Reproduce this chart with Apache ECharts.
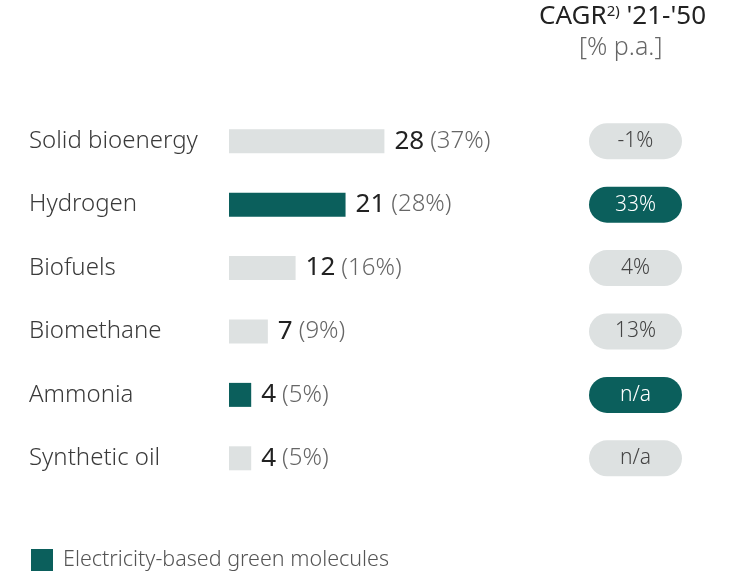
<!DOCTYPE html>
<html><head><meta charset="utf-8">
<script src="https://cdn.jsdelivr.net/npm/echarts@6/dist/echarts.min.js"></script>
<style>html,body{margin:0;padding:0;background:#fff}#c{width:730px;height:572px}</style>
</head><body><div id="c"></div>
<script>
const categories = ['Solid bioenergy','Hydrogen','Biofuels','Biomethane','Ammonia','Synthetic oil'];
const values = [28,21,12,7,4,4];
const shares = ['37%','28%','16%','9%','5%','5%'];
const electricityBased = [false,true,false,false,true,false];
const cagr = ['-1%','33%','4%','13%','n/a','n/a'];
const legendName = 'Electricity-based green molecules';

const TEAL = '#0b5f5c', GREY = '#dde1e1';
const FONT = '"Noto Sans", "Open Sans", sans-serif';
const chart = echarts.init(document.getElementById('c'));
const gTop = 109.5, gBottom = 82;
const labelCfg = {
  show: true, position: 'right', distance: 10,
  formatter: p => '{a|' + p.value + '}{b|(' + shares[p.dataIndex] + ')}',
  rich: {
    a: {fontFamily: FONT, fontSize: 26, color: '#222', fontWeight: 400, padding: [0, 6, 0, 0]},
    b: {fontFamily: FONT, fontSize: 24, color: '#666', fontWeight: 300}
  }
};
chart.setOption({
  animation: false,
  graphic: [{
    type: 'text', left: 539, top: 4,
    style: {
      text: "CAGR{s|2)} '21-'50",
      rich: { s: {fontSize: 15, verticalAlign: 'top', padding: [0,0,10,0], fontFamily: FONT, fill: '#222'} },
      fontFamily: FONT, fontSize: 26, fill: '#222', fontWeight: 400
    }
  }, {
    type: 'text', left: 579, top: 35,
    style: { text: '[% p.a.]', fontFamily: FONT, fontSize: 25, fill: '#666', fontWeight: 300 }
  }],
  legend: {
    left: 31, top: 549, itemWidth: 22, itemHeight: 22, icon: 'rect', padding: 0,
    data: [legendName],
    selectedMode: false,
    textStyle: {fontFamily: FONT, fontSize: 21.5, color: '#555', fontWeight: 300, padding: [5,0,0,5]}
  },
  grid: [
    {left: 229, width: 277.5, top: gTop, bottom: gBottom},
    {left: 589, width: 93, top: gTop, bottom: gBottom}
  ],
  xAxis: [
    {gridIndex: 0, type: 'value', min: 0, max: 50, show: false},
    {gridIndex: 1, type: 'value', min: 0, max: 1, show: false}
  ],
  yAxis: [
    {gridIndex: 0, type: 'category', data: categories, inverse: true,
     axisLine: {show: false}, axisTick: {show: false}, splitLine: {show: false},
     axisLabel: {align: 'left', margin: 200, fontFamily: FONT, fontSize: 24, color: '#3a3a3a', fontWeight: 300}},
    {gridIndex: 1, type: 'category', data: categories, inverse: true, show: false}
  ],
  series: [
    {type: 'bar', name: 'Other', xAxisIndex: 0, yAxisIndex: 0, stack: 's', barWidth: 24,
     itemStyle: {color: GREY},
     data: values.map((v, i) => electricityBased[i] ? '-' : v), label: labelCfg},
    {type: 'bar', name: legendName, xAxisIndex: 0, yAxisIndex: 0, stack: 's', barWidth: 24,
     itemStyle: {color: TEAL},
     data: values.map((v, i) => electricityBased[i] ? v : '-'), label: labelCfg},
    {type: 'bar', name: 'CAGR', xAxisIndex: 1, yAxisIndex: 1, barWidth: 36,
     data: cagr.map((c, i) => ({
       value: 1,
       itemStyle: {color: electricityBased[i] ? TEAL : GREY, borderRadius: 18},
       label: {color: electricityBased[i] ? '#fff' : '#444'}
     })),
     label: {show: true, position: 'inside', formatter: p => cagr[p.dataIndex],
       fontFamily: FONT, fontSize: 21, fontWeight: 300}
    }
  ]
});
</script></body></html>
